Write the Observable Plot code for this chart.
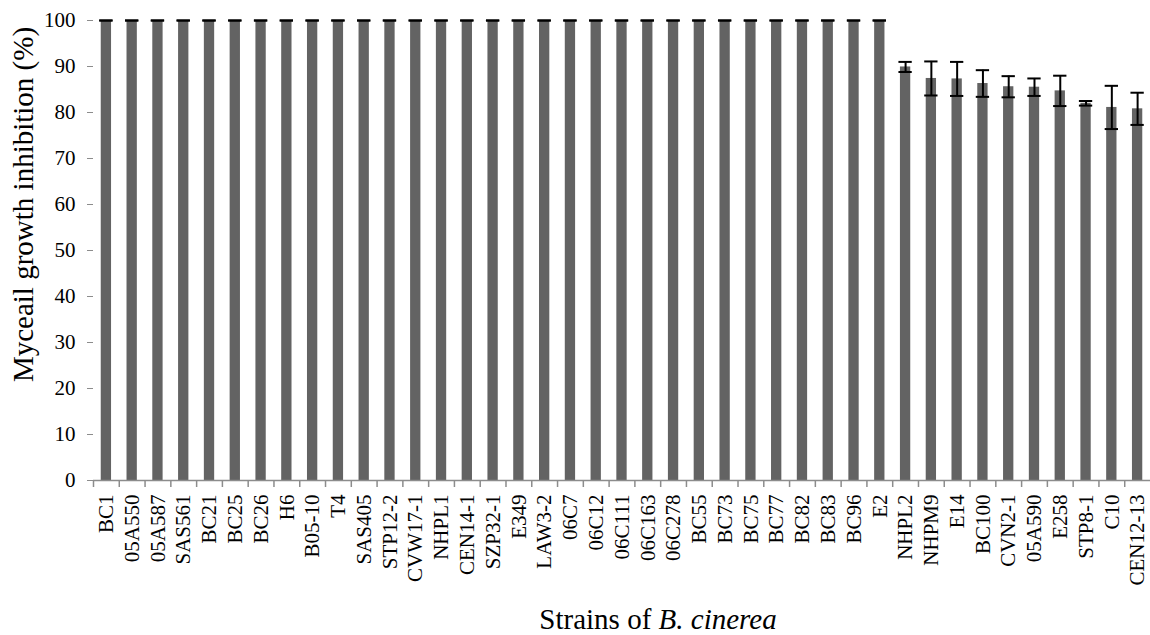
<!DOCTYPE html>
<html>
<head>
<meta charset="utf-8">
<script src="https://cdn.jsdelivr.net/npm/d3@7"></script>
<script src="https://cdn.jsdelivr.net/npm/@observablehq/plot@0.6"></script>
<style>
  html, body { margin: 0; padding: 0; background: #fff; }
  #chart svg { display: block; }
  #chart svg text { font-family: "Liberation Serif", "Times New Roman", serif; }
</style>
</head>
<body>
<div id="chart"></div>
<script>
const strains = ["BC1","05A550","05A587","SAS561","BC21","BC25","BC26","H6","B05-10","T4","SAS405","STP12-2","CVW17-1","NHPL1","CEN14-1","SZP32-1","E349","LAW3-2","06C7","06C12","06C111","06C163","06C278","BC55","BC73","BC75","BC77","BC82","BC83","BC96","E2","NHPL2","NHPM9","E14","BC100","CVN2-1","05A590","E258","STP8-1","C10","CEN12-13"];
const inhibition = [100,100,100,100,100,100,100,100,100,100,100,100,100,100,100,100,100,100,100,100,100,100,100,100,100,100,100,100,100,100,100,89.9,87.4,87.3,86.3,85.6,85.5,84.7,82.0,81.1,80.8];
const errors = [0,0,0,0,0,0,0,0,0,0,0,0,0,0,0,0,0,0,0,0,0,0,0,0,0,0,0,0,0,0,0,1.1,3.7,3.7,2.9,2.3,1.9,3.3,0.5,4.7,3.5];
const yTicks = [0,10,20,30,40,50,60,70,80,90,100];
const xTitle = ["Strains of ", "B. cinerea"];
const yTitle = "Myceail growth inhibition (%)";

const data = strains.map((s, i) => ({strain: s, value: inhibition[i], err: errors[i]}));

const W = 1150, H = 635, mL = 93, mR = 0, mT = 20, mB = 155;
const step = (W - mL - mR) / strains.length;
const axisGray = "#8c8c8c";
const serif = "'Liberation Serif', 'Times New Roman', serif";

const chart = Plot.plot({
  width: W, height: H,
  marginLeft: mL, marginRight: mR, marginTop: mT, marginBottom: mB,
  style: {fontFamily: serif, fontSize: "21px", color: "#000", background: "#fff"},
  x: {domain: strains, paddingInner: 0.6, paddingOuter: 0.3, axis: null},
  y: {domain: [0, 100], axis: null},
  marks: [
    Plot.barY(data, {x: "strain", y: "value", fill: "#636363"}),
    Plot.ruleY([0], {stroke: axisGray, strokeWidth: 1.5}),
    Plot.ruleX([0], {frameAnchor: "left", y1: 0, y2: 100, stroke: axisGray, strokeWidth: 1.5}),
    Plot.axisY({ticks: yTicks, tickSize: 6, tickPadding: 12, stroke: axisGray, fill: "#000", fontSize: 21, label: null}),
    Plot.axisX({tickSize: 0, tickPadding: 14, tickRotate: -90, fill: "#000", fontSize: 21, label: null}),
    Plot.axisX({tickSize: 7, tickFormat: null, stroke: axisGray, strokeWidth: 1.5, dx: -step / 2, label: null}),
    Plot.ruleX(data, {x: "strain", y1: d => d.value - d.err, y2: d => d.value + d.err, stroke: "#000", strokeWidth: 2}),
    Plot.tickY(data, {x: "strain", y: d => d.value + d.err, stroke: "#000", strokeWidth: 2, insetLeft: -1.5, insetRight: -1.5}),
    Plot.tickY(data, {x: "strain", y: d => d.value - d.err, stroke: "#000", strokeWidth: 2, insetLeft: -1.5, insetRight: -1.5}),
    Plot.text([xTitle.join("")], {frameAnchor: "bottom", dx: 36, dy: 148, fontSize: 29, fill: "#000"}),
    Plot.text([yTitle], {frameAnchor: "left", textAnchor: "middle", lineAnchor: "middle", rotate: -90, dx: -70, dy: -46, fontSize: 29, fill: "#000"})
  ]
});
document.getElementById("chart").appendChild(chart);

// italicize the species name in the x-axis title
const joined = xTitle.join("");
d3.select(chart).selectAll("text").filter(function () { return this.textContent === joined; }).each(function () {
  const t = d3.select(this);
  t.text(null);
  t.append("tspan").text(xTitle[0]);
  t.append("tspan").attr("font-style", "italic").text(xTitle[1]);
});
</script>
</body>
</html>
